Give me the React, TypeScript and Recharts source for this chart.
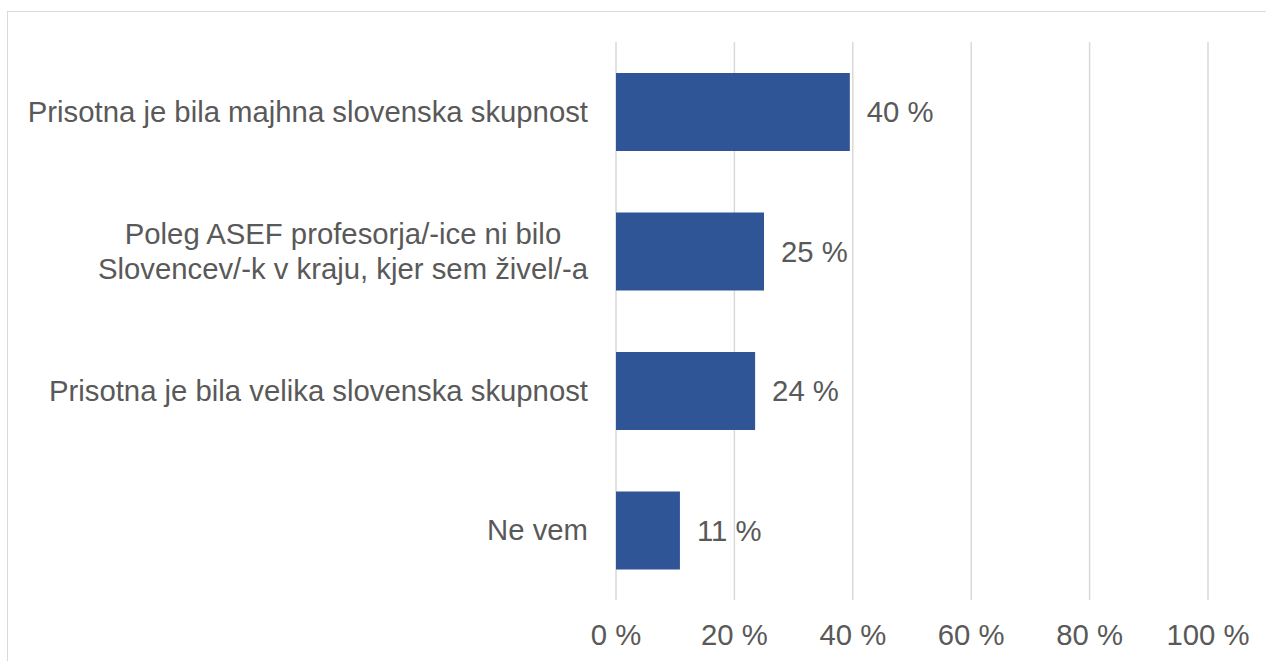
import { Bar, BarChart, CartesianGrid, LabelList, XAxis, YAxis } from "recharts";

const categories = [
  "Prisotna je bila majhna slovenska skupnost",
  "Poleg ASEF profesorja/-ice ni bilo\nSlovencev/-k v kraju, kjer sem živel/-a",
  "Prisotna je bila velika slovenska skupnost",
  "Ne vem",
];
const shares = [39.5, 25.0, 23.5, 10.8];
const xTicks = [0, 20, 40, 60, 80, 100];

const data = categories.map((name, i) => ({ name, share: shares[i] }));

const FONT = "'Liberation Sans', Arial, sans-serif";
const FONT_SIZE = 29.3;
const TEXT = "#595959";
const BAR = "#2F5597";
const GRID = "#D9D9D9";

let ctx: CanvasRenderingContext2D | null = null;
function measure(s: string) {
  if (!ctx) {
    ctx = document.createElement("canvas").getContext("2d");
  }
  if (!ctx) return s.length * FONT_SIZE * 0.5;
  ctx.font = `${FONT_SIZE}px ${FONT}`;
  return ctx.measureText(s).width;
}

function CategoryTick(props: any) {
  const { x, y, payload } = props;
  const lines: string[] = String(payload.value).split("\n");
  const right = x - 28;
  if (lines.length === 1) {
    return (
      <text x={right} y={y + 10} textAnchor="end" fill={TEXT} fontSize={FONT_SIZE} fontFamily={FONT}>
        {lines[0]}
      </text>
    );
  }
  // wrapped label: lines centred on each other, block right-aligned
  const w = Math.max(...lines.map(measure));
  const cx = right - w / 2;
  const lh = 35;
  const first = y + 10 - ((lines.length - 1) * lh) / 2;
  return (
    <text textAnchor="middle" fill={TEXT} fontSize={FONT_SIZE} fontFamily={FONT}>
      {lines.map((l, i) => (
        <tspan key={i} x={cx} y={first + i * lh}>
          {l}
        </tspan>
      ))}
    </text>
  );
}

function PercentTick(props: any) {
  const { x, y, payload } = props;
  return (
    <text x={x} y={y + 45} textAnchor="middle" fill={TEXT} fontSize={FONT_SIZE} fontFamily={FONT}>
      {`${payload.value} %`}
    </text>
  );
}

function ValueLabel(props: any) {
  const { x, y, width, height, value } = props;
  return (
    <text
      x={x + width + 17}
      y={y + height / 2 + 10}
      fill={TEXT}
      fontSize={FONT_SIZE}
      fontFamily={FONT}
    >
      {`${Math.round(value)} %`}
    </text>
  );
}

export default function App() {
  return (
    <div style={{ position: "fixed", inset: 0, overflow: "hidden", background: "#fff" }}>
      <div
        style={{
          position: "absolute",
          left: 7,
          top: 11,
          width: 1300,
          height: 700,
          border: `1px solid ${GRID}`,
        }}
      />
      <div style={{ position: "absolute", left: 0, top: 0 }}>
        <BarChart
          width={1266}
          height={661}
          data={data}
          layout="vertical"
          margin={{ top: 42, right: 58, bottom: 0, left: 0 }}
        >
          <CartesianGrid horizontal={false} stroke={GRID} strokeWidth={1.5} />
          <XAxis
            type="number"
            domain={[0, 100]}
            ticks={xTicks}
            height={61}
            axisLine={false}
            tickLine={false}
            tickSize={0}
            tickMargin={0}
            tick={<PercentTick />}
            interval={0}
          />
          <YAxis
            type="category"
            dataKey="name"
            width={616}
            axisLine={false}
            tickLine={false}
            tickSize={0}
            tickMargin={0}
            tick={<CategoryTick />}
            interval={0}
          />
          <Bar dataKey="share" fill={BAR} barSize={78} isAnimationActive={false}>
            <LabelList dataKey="share" content={<ValueLabel />} />
          </Bar>
        </BarChart>
      </div>
    </div>
  );
}
